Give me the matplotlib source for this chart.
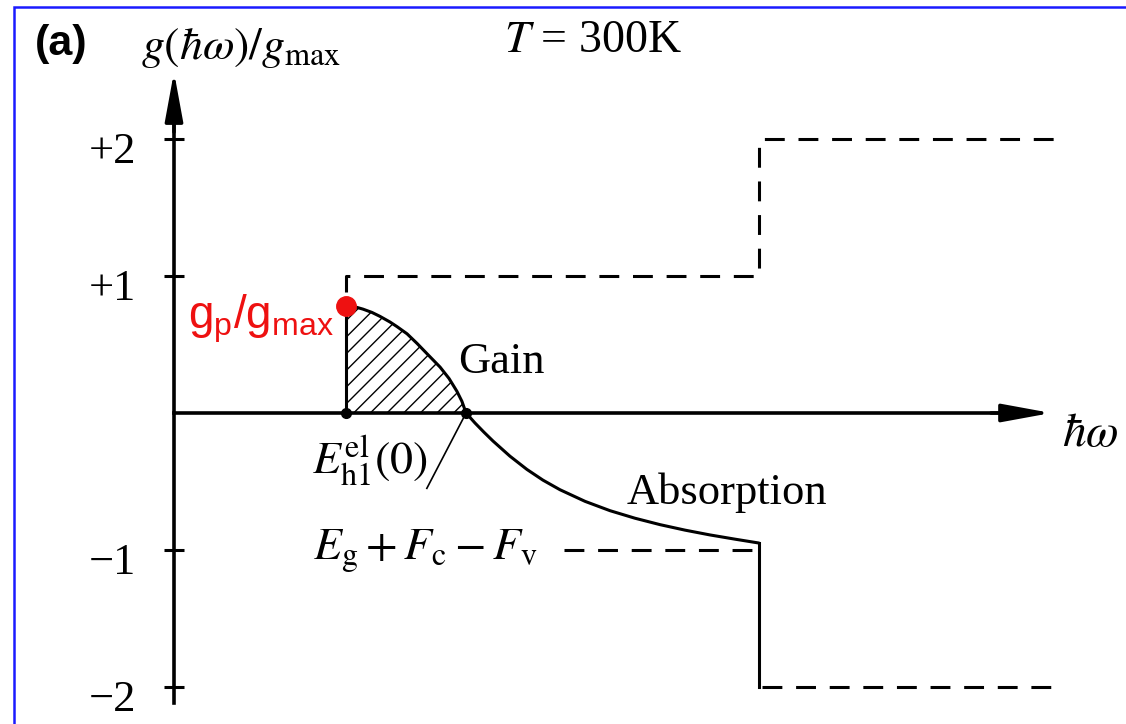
import matplotlib.pyplot as plt
import matplotlib.transforms as mtransforms
from matplotlib.patches import Rectangle
import numpy as np

plt.rcParams['mathtext.fontset'] = 'stix'
plt.rcParams['mathtext.rm'] = 'Liberation Sans'
plt.rcParams['mathtext.it'] = 'Liberation Sans:italic'
plt.rcParams['hatch.linewidth'] = 1.0

# photon energy in units of E_h1^el(0), gain normalised to g_max
gain_x = [1.000, 1.052, 1.099, 1.151, 1.198, 1.256, 1.297, 1.355, 1.413, 1.477,
          1.547, 1.599, 1.645, 1.674, 1.698, 1.750, 1.802, 1.855, 1.953, 2.052,
          2.145, 2.244, 2.390, 2.535, 2.680, 2.826, 2.971, 3.116, 3.262, 3.395]
gain_y = [0.781, 0.775, 0.758, 0.734, 0.705, 0.664, 0.630, 0.578, 0.508, 0.425,
          0.335, 0.252, 0.158, 0.085, 0.0, -0.073, -0.140, -0.205, -0.315, -0.412,
          -0.490, -0.560, -0.645, -0.713, -0.768, -0.815, -0.855, -0.890, -0.921,
          -0.948]

e_h1 = 1.00        # first subband edge
e_cross = 1.698    # transparency point, E_g + F_c - F_v
e_step = 3.40      # second subband edge
e_end = 5.12

step_levels = [1, 2]
absorb_levels = [-1, -2]
yticks = [-2, -1, 1, 2]
ytick_labels = ['\u22122', '\u22121', '+1', '+2']

fig = plt.figure(figsize=(11.26, 7.24), dpi=100)
ax = fig.add_axes([0, 0, 1, 1])
ax.set_xlim(-174 / 172, 952 / 172)
ax.set_ylim(-311 / 137, 413 / 137)
ax.patch.set_alpha(0)

# axes through the origin with arrow heads
for s in ['top', 'right']:
    ax.spines[s].set_visible(False)
ax.spines['left'].set_position(('data', 0))
ax.spines['bottom'].set_position(('data', 0))
ax.spines['left'].set_linewidth(2.6)
ax.spines['bottom'].set_linewidth(2.6)
ax.spines['left'].set_bounds(-2.12, 2.1)
ax.spines['bottom'].set_bounds(0, 4.8)
arrow = dict(arrowstyle='-|>,head_length=3.0,head_width=0.55', lw=2.5,
             color='black', shrinkA=0, shrinkB=0, mutation_scale=10)
ax.annotate('', xy=(0, 2.49), xytext=(0, 2.05), arrowprops=arrow)
ax.annotate('', xy=(5.10, 0), xytext=(4.75, 0), arrowprops=arrow)

ax.set_xticks([])
ax.set_yticks(yticks)
ax.set_yticklabels(ytick_labels, fontfamily='Liberation Serif', fontsize=32)
ax.tick_params(axis='y', direction='inout', length=15, width=2.2, pad=20)
shift = mtransforms.ScaledTranslation(0, -6 / 72, fig.dpi_scale_trans)
for lab in ax.get_yticklabels():
    lab.set_transform(lab.get_transform() + shift)

dash = (0, (6.5, 4.5))
# step-like gain maximum (dashed)
ax.plot([e_h1, e_h1, e_step, e_step, e_end],
        [0.88, step_levels[0], step_levels[0], step_levels[1], step_levels[1]],
        color='black', lw=2.2, linestyle=dash)
ax.plot([2.27, e_step], [absorb_levels[0], absorb_levels[0]],
        color='black', lw=2.2, linestyle=dash)
ax.plot([e_step + 0.02, e_end], [absorb_levels[1], absorb_levels[1]],
        color='black', lw=2.2, linestyle=dash)

# gain spectrum
ax.plot([e_h1, e_h1], [0, gain_y[0]], color='black', lw=2.2)
ax.plot(gain_x, gain_y, color='black', lw=2.2, solid_joinstyle='round')
ax.plot([e_step, e_step], [gain_y[-1], absorb_levels[1]], color='black', lw=2.2)

gx = np.array(gain_x)
gy = np.array(gain_y)
pos = gy >= 0
ax.fill_between(gx[pos], gy[pos], 0, facecolor='none', edgecolor='black',
                hatch='//', linewidth=0)

ax.plot([e_h1, e_cross], [0, 0], 'o', color='black', markersize=7)
ax.plot([e_h1], [gain_y[0]], 'o', color='#ee1111', markersize=14, zorder=5)
ax.plot([e_cross, 1.47], [0, -0.55], color='black', lw=1.2)

# labels
serif = 'Liberation Serif'
ax.text(-0.81, 2.69, '(a)', fontfamily='Liberation Sans', fontweight='bold',
        fontsize=31, va='center', ha='left')
ax.text(-0.19, 2.67, r'$g(\hbar\omega)/g_{\mathrm{max}}$', fontsize=33,
        va='center', ha='left')
ax.text(1.92, 2.72, r'$T$ = 300K', fontfamily=serif, fontsize=33,
        va='center', ha='left')
ax.text(1.65, 0.37, 'Gain', fontfamily=serif, fontsize=32, va='center', ha='left')
ax.text(2.63, -0.58, 'Absorption', fontfamily=serif, fontsize=32,
        va='center', ha='left')
ax.text(5.16, -0.15, r'$\hbar\omega$', fontsize=34, va='center', ha='left')
ax.text(0.80, -0.35, r'$E_{\mathrm{h1}}^{\mathrm{el}}(0)$', fontsize=33,
        va='center', ha='left')
ax.text(0.81, -1.0, r'$E_{\mathrm{g}}+F_{\mathrm{c}}-F_{\mathrm{v}}$',
        fontsize=33, va='center', ha='left')
ax.text(0.08, 0.69, r'$\mathrm{g_p/g_{max}}$', fontsize=33, color='#ee1111',
        math_fontfamily='custom', va='center', ha='left')

# frame of the panel
fig.add_artist(Rectangle((14 / 1126, -0.05), 1.2, 1.05 - 7 / 724,
                         transform=fig.transFigure, fill=False,
                         edgecolor='#1a1aff', lw=1.8))

fig.savefig('out.png', dpi=100)
